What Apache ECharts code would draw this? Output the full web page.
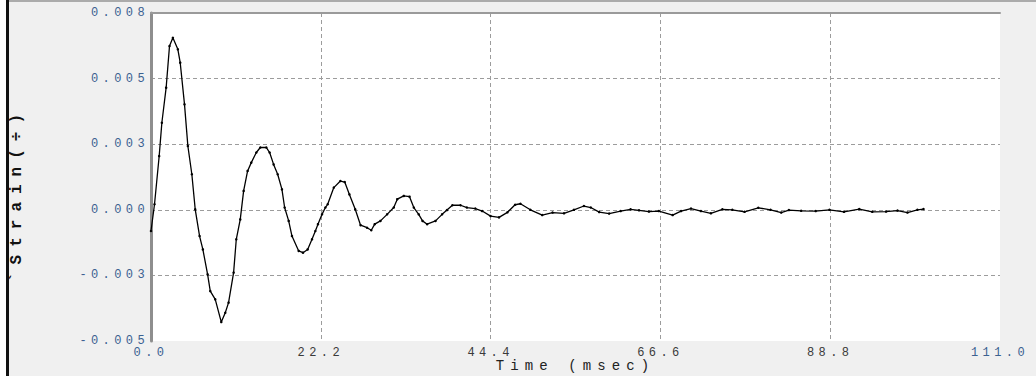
<!DOCTYPE html>
<html>
<head>
<meta charset="utf-8">
<script src="https://cdn.jsdelivr.net/npm/echarts@6/dist/echarts.min.js"></script>
<style>
  html, body { margin: 0; padding: 0; background: #f0f0f0; }
  #chart { width: 1036px; height: 376px; }
</style>
</head>
<body>
<div id="chart"></div>
<script>
// Sampled strain response (time in ms, strain)
const timeMs = [
  0.0, 0.46, 1.07, 1.42, 1.98, 2.42, 2.86, 3.51, 3.82, 4.38,
  4.82, 5.34, 5.78, 6.35, 6.78, 7.40, 7.75, 8.40, 9.19, 9.71,
  10.14, 10.80, 11.15, 11.67, 12.11, 12.63, 13.11, 13.77, 14.29, 15.08,
  15.51, 16.03, 16.56, 17.12, 17.47, 18.00, 18.43, 19.31, 19.87, 20.48,
  21.05, 21.49, 21.83, 22.36, 22.8, 23.1, 23.9, 24.76, 25.33, 25.94,
  26.7, 27.4, 28.25, 28.8, 29.25, 30.0, 30.87, 31.74, 32.2, 33.05,
  33.8, 34.36, 35.0, 35.5, 36.1, 37.2, 38.06, 38.7, 39.4, 40.47,
  41.3, 42.4, 43.3, 44.4, 45.5, 46.6, 47.6, 48.3, 49.6, 51.15,
  52.5, 54.0, 55.3, 56.6, 57.5, 58.6, 59.9, 61.4, 62.7, 63.8,
  65.1, 66.4, 68.2, 69.3, 70.6, 71.9, 73.2, 74.7, 76.0, 77.6,
  79.4, 81.0, 82.4, 83.4, 85.0, 86.9, 88.7, 90.6, 92.6, 94.3,
  96.1, 97.6, 98.9, 100.2, 101.0
];
const strain = [
  -0.00084, 0.00022, 0.00213, 0.00345, 0.00484, 0.00649, 0.00682, 0.00636, 0.00583, 0.00418,
  0.00253, 0.00141, 0.00002, -0.00104, -0.00157, -0.00256, -0.00322, -0.00355, -0.00445, -0.00408,
  -0.00368, -0.00249, -0.00117, -0.00038, 0.00075, 0.00154, 0.00187, 0.00227, 0.00247, 0.00247,
  0.00227, 0.00180, 0.00141, 0.00081, 0.00009, -0.00044, -0.00104, -0.00163, -0.00170, -0.00157,
  -0.00117, -0.00084, -0.00057, -0.00018, 0.00009, 0.00022, 0.00088, 0.00114, 0.00110, 0.00061,
  0.00002, -0.00061, -0.00071, -0.00081, -0.00057, -0.00044, -0.00018, 0.00009, 0.00042, 0.00055,
  0.00052, 0.00009, -0.00018, -0.00044, -0.00057, -0.00044, -0.00018, -0.00001, 0.00018, 0.00018,
  0.00009, 0.00005, -0.00005, -0.00025, -0.00030, -0.00010, 0.00020, 0.00024, 0.00000, -0.00021,
  -0.00011, -0.00014, 0.00000, 0.00015, 0.00009, -0.00009, -0.00015, -0.00005, 0.00002, -0.00002,
  -0.00007, -0.00005, -0.00021, -0.00005, 0.00005, -0.00005, -0.00014, 0.00002, 0.00000, -0.00008,
  0.00008, 0.00000, -0.00011, -0.00001, -0.00004, -0.00005, 0.00000, -0.00008, 0.00003, -0.00008,
  -0.00007, -0.00003, -0.00011, 0.00000, 0.00003
];
const xTickLabels = ['0.0', '22.2', '44.4', '66.6', '88.8', '111.0'];
const yTickLabels = ['-0.005', '-0.003', '0.000', '0.003', '0.005', '0.008'];
const xTitle = 'Time (msec)';
const yTitle = '`Strain(÷)';

const MONO = '"Liberation Mono", "DejaVu Sans Mono", monospace';
const gridDash = { color: '#9c9c9c', width: 1, type: [4, 3] };

const chart = echarts.init(document.getElementById('chart'), null, { renderer: 'svg' });

chart.setOption({
  animation: false,
  backgroundColor: '#f0f0f0',
  grid: {
    left: 151, right: 36, top: 13, bottom: 35,
    outerBoundsMode: 'none', containLabel: false,
    show: true, backgroundColor: '#ffffff', borderWidth: 0
  },
  graphic: [
    { type: 'rect', left: 0, top: 0, shape: { width: 6, height: 376 }, style: { fill: '#ffffff' }, silent: true },
    { type: 'rect', left: 6, top: 0, shape: { width: 3, height: 376 }, style: { fill: '#111111' }, silent: true },
    { type: 'rect', left: 9, top: 0, shape: { width: 1027, height: 2 }, style: { fill: '#ababab' }, silent: true }
  ],
  xAxis: [
    {
      type: 'value', position: 'bottom',
      min: 0, max: 111, interval: 22.2,
      axisLine: { show: false },
      axisTick: { show: false },
      axisLabel: {
        margin: 6,
        fontFamily: MONO, fontSize: 12,
        color: (v, i) => (i === 0 || i === xTickLabels.length - 1) ? '#3b6190' : '#3a3a3a',
        formatter: (v, i) => xTickLabels[i]
      },
      splitLine: { show: true, showMinLine: false, showMaxLine: false, lineStyle: gridDash },
      name: xTitle, nameLocation: 'middle', nameGap: 18, nameMoveOverlap: false,
      nameTextStyle: { fontFamily: MONO, fontSize: 14, color: '#222222' }
    },
    {
      type: 'value', position: 'top',
      min: 0, max: 111, interval: 22.2,
      axisLine: { show: true, lineStyle: { color: '#9a9a9a', width: 2 } },
      axisTick: { show: false },
      axisLabel: { show: false },
      splitLine: { show: false }
    }
  ],
  yAxis: {
    type: 'value',
    min: -0.0052, max: 0.0078, interval: 0.0026,
    offset: 2,
    axisLine: { show: true, lineStyle: { color: '#8e8e8e', width: 3 } },
    axisTick: { show: false },
    axisLabel: {
      margin: 0,
      fontFamily: MONO, fontSize: 12, color: '#3b6190',
      formatter: (v, i) => yTickLabels[i]
    },
    splitLine: { show: true, showMinLine: false, showMaxLine: false, lineStyle: gridDash },
    name: yTitle, nameLocation: 'middle', nameRotate: 90, nameGap: 124, nameMoveOverlap: false,
    nameTextStyle: {
      fontFamily: MONO, fontSize: 16, fontWeight: 'bold', color: '#111111',
      padding: [0, 34, 0, 0]
    }
  },
  series: [{
    type: 'line',
    xAxisIndex: 0,
    data: timeMs.map((t, i) => [t, strain[i]]),
    showSymbol: true, symbol: 'circle', symbolSize: 2.5,
    itemStyle: { color: '#000000' },
    lineStyle: { color: '#000000', width: 1.3 },
    silent: true
  }]
});

// Wide character spacing of the old instrument font
function spaceText() {
  document.querySelectorAll('#chart text').forEach(el => {
    const s = el.textContent;
    let sp = 4.4;
    if (s === yTitle) sp = 8;
    else if (s === xTitle) sp = 6.1;
    el.setAttribute('letter-spacing', sp + 'px');
  });
}
spaceText();
chart.on('finished', spaceText);
</script>
</body>
</html>
